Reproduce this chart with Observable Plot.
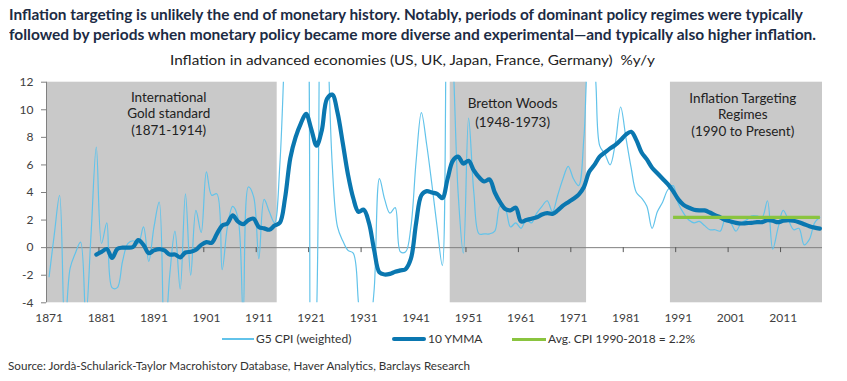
<!DOCTYPE html>
<html><head><meta charset="utf-8">
<script src="https://cdn.jsdelivr.net/npm/d3@7"></script>
<script src="https://cdn.jsdelivr.net/npm/@observablehq/plot@0.6"></script>
<style>
body{margin:0;width:847px;height:381px;position:relative;overflow:hidden;background:#fff;font-family:Lato,sans-serif;}
.t{position:absolute;white-space:nowrap;transform-origin:0 50%;line-height:1;}
#title1,#title2{left:9px;font-size:15px;font-weight:bold;color:#1c2b44;}
#title1{top:7px}#title2{top:27px}
#sub{top:53px;left:170px;font-size:14px;color:#222;}
#chart{position:absolute;left:0;top:70px;}
.sw{position:absolute;}
.lg{font-size:12px;color:#333;top:333px;}
#src{left:8px;top:360px;font-size:11px;color:#333;}
</style></head>
<body>
<div class="t" id="title1">Inflation targeting is unlikely the end of monetary history. Notably, periods of dominant policy regimes were typically</div>
<div class="t" id="title2">followed by periods when monetary policy became more diverse and experimental—and typically also higher inflation.</div>
<div class="t" id="sub">Inflation in advanced economies (US, UK, Japan, France, Germany)&nbsp; %y/y</div>
<div id="chart"></div>
<div class="sw" style="left:222px;top:338px;width:32px;height:1.5px;background:#62c3ea"></div>
<div class="t lg" id="lg1" style="left:256px">G5 CPI (weighted)</div>
<div class="sw" style="left:392px;top:337px;width:34px;height:4px;background:#0a77b0;border-radius:2px"></div>
<div class="t lg" id="lg2" style="left:428px">10 YMMA</div>
<div class="sw" style="left:512px;top:337.5px;width:34px;height:3px;background:#8ac43f"></div>
<div class="t lg" id="lg3" style="left:548px">Avg. CPI 1990-2018 = 2.2%</div>
<div class="t" id="src">Source: Jordà-Schularick-Taylor Macrohistory Database, Haver Analytics, Barclays Research</div>
<script>
// ---- data ----
const firstYear = 1871, lastYear = 2018;
const g5CPI = [
 -2.1, 1.0, 3.8, -6.0, -1.5, -0.4, 0.4, -5.0, 1.0, 7.3,      // 1871-1880
 0.3, 1.8, -2.9, -2.9, -1.0, 0.3, 0.5, 0.3, 1.5, -1.0,        // 1881-1890
 1.5, 3.3, -7.0, -2.0, 1.2, -3.0, 3.9, -2.0, 2.7, 1.1,        // 1891-1900
 5.5, 3.8, 3.9, -1.6, 1.5, 3.0, 2.2, -4.8, 4.4, 3.7,          // 1901-1910
 -0.8, 3.5, 2.6, 1.8, 6, 15, 22, 22, 18, 20,                  // 1911-1920
 -12, -5, 40, 18, 6, 1.5, 0.5, -0.2, -0.4, -4,                // 1921-1930
 -8, -6.5, -3, 5.0, 3.5, 2.5, 2.9, -0.3, -0.3, 1.5,           // 1931-1940
 6.3, 9.8, 7.5, 4.6, 1.5, -1.3, 20, 14, 4, -0.4,              // 1941-1950
 9.4, 4, 1.0, 1.0, 1.0, 1.2, 3.0, 2.8, 1.5, 1.8,              // 1951-1960
 1.4, 2.0, 1.8, 2.5, 3.0, 3.4, 2.6, 3.8, 5.0, 5.9,            // 1961-1970
 5.0, 4.5, 8.0, 14, 13, 7.4, 6.8, 6.0, 7.6, 10.2,             // 1971-1980
 8.0, 5.8, 4.0, 3.6, 3.0, 1.4, 2.6, 3.3, 4.2, 4.5,            // 1981-1990
 3.2, 2.5, 2.0, 1.8, 1.9, 1.6, 1.3, 1.3, 1.2, 2.1,            // 1991-2000
 1.8, 1.2, 1.8, 2.0, 2.3, 2.3, 2.2, 3.4, -0.1, 1.4,           // 2001-2010
 2.7, 2.0, 1.3, 1.4, 0.2, 0.6, 1.8, 2.2                       // 2011-2018
];
const maFirstYear = 1880;
const ma10 = [
 -0.5,                                                        // 1880
 -0.3, -0.1, -0.75, -0.1, 0.0, 0.0, 0.05, 0.55, 0.2, -0.4,    // 1881-1890
 -0.2, -0.1, -0.2, -0.5, -0.5, -0.7, -0.35, -0.3, -0.15, 0.2, // 1891-1900
 0.4, 0.35, 1.0, 1.6, 1.75, 2.35, 1.9, 1.7, 2.0, 2.1,         // 1901-1910
 1.5, 1.4, 1.3, 1.6, 1.8, 3.6, 6.5, 8.0, 9.0, 9.7,            // 1911-1920
 8.6, 7.4, 8.5, 10.8, 11.1, 9.8, 7.6, 5.3, 3.6, 2.6,          // 1921-1930
 2.75, 1.8, -0.2, -1.8, -1.95, -1.9, -1.75, -1.65, -1.55, -0.8, // 1931-1940
 1.8, 3.8, 4.1, 4.0, 3.9, 3.6, 5.0, 6.3, 6.6, 6.1,            // 1941-1950
 6.3, 5.6, 5.1, 4.8, 4.95, 4.0, 3.3, 2.8, 2.7, 2.9,           // 1951-1960
 1.9, 2.0, 2.1, 2.2, 2.4, 2.5, 2.45, 2.7, 3.05, 3.3,          // 1961-1970
 3.55, 3.85, 4.4, 5.5, 6.0, 6.6, 6.9, 7.2, 7.45, 7.8,         // 1971-1980
 8.2, 8.4, 7.8, 6.9, 6.4, 5.8, 5.4, 5.0, 4.6, 4.1,            // 1981-1990
 3.5, 3.1, 2.9, 2.75, 2.7, 2.7, 2.55, 2.35, 2.2, 2.0,         // 1991-2000
 1.9, 1.8, 1.75, 1.78, 1.8, 1.85, 1.85, 2.0, 1.95, 1.85,      // 2001-2010
 1.95, 2.0, 1.95, 1.85, 1.7, 1.55, 1.45, 1.38                 // 2011-2018
];
const avgYears = [1990, 2018];
const avgValue = 2.2;
const regimeStart = [1870.5, 1947.5, 1989.5];
const regimeEnd = [1914.5, 1973.5, 2018.5];
const labelLines = ["International", "Gold standard", "(1871-1914)", "Bretton Woods", "(1948-1973)", "Inflation Targeting", "Regimes", "(1990 to Present)"];
const labelYear = [1893.8, 1893.8, 1893.8, 1959.4, 1959.4, 2003.3, 2003.3, 2003.3];
const labelValue = [10.9, 9.69, 8.47, 10.45, 9.07, 10.81, 9.61, 8.4];
const xTickLabels = [1871, 1881, 1891, 1901, 1911, 1921, 1931, 1941, 1951, 1961, 1971, 1981, 1991, 2001, 2011];
const yTicks = [-4, -2, 0, 2, 4, 6, 8, 10, 12];

// ---- tables ----
const cpi = g5CPI.map((v, i) => ({year: firstYear + i, v}));
const ma = ma10.map((v, i) => ({year: maFirstYear + i, v}));
const avg = avgYears.map(y => ({year: y, v: avgValue}));
const regimes = regimeStart.map((s, i) => ({s, e: regimeEnd[i]}));
const labels = labelLines.map((t, i) => ({t, year: labelYear[i], v: labelValue[i]}));
const tickBounds = xTickLabels.map(y => y - 0.5);

const chart = Plot.plot({
  width: 847, height: 260,
  marginLeft: 46, marginRight: 25, marginTop: 11.7, marginBottom: 27.7,
  x: {domain: [firstYear - 0.5, lastYear + 0.5], axis: null},
  y: {domain: [-4, 12], axis: null},
  style: {fontFamily: "Lato, sans-serif", fontSize: "12px", color: "#404040", background: "transparent", overflow: "visible"},
  marks: [
    Plot.rectX(regimes, {x1: "s", x2: "e", y1: -4, y2: 12, fill: "#c9c9c9"}),
    Plot.ruleY([0], {stroke: "#808080", strokeWidth: 1}),
    Plot.ruleX(tickBounds, {x: d => d, y1: 0, y2: -0.36, stroke: "#555", strokeWidth: 1}),
    Plot.ruleX([firstYear - 0.5], {y1: -4, y2: 12, stroke: "#808080"}),
    Plot.axisY(yTicks, {label: null, tickSize: 5, tickPadding: 8, stroke: "#808080", fill: "#404040", fontSize: 12, tickFormat: d => String(d)}),
    Plot.axisX(xTickLabels, {label: null, tickSize: 0, tickPadding: 11, fill: "#404040", fontSize: 12, tickFormat: d => String(d)}),
    Plot.lineY(cpi, {x: "year", y: "v", stroke: "#62c3ea", strokeWidth: 1.2, curve: "catmull-rom", clip: true}),
    Plot.lineY(ma, {x: "year", y: "v", stroke: "#0a77b0", strokeWidth: 4.2, curve: "catmull-rom", strokeLinejoin: "round", strokeLinecap: "round"}),
    Plot.lineY(avg, {x: "year", y: "v", stroke: "#8ac43f", strokeWidth: 3.2, strokeLinecap: "butt"}),
    Plot.text(labels, {x: "year", y: "v", text: "t", fontSize: 13.5, fill: "#222", fontFamily: "Lato, sans-serif"})
  ]
});
document.getElementById("chart").appendChild(chart);

function fit(id, target) {
  const el = document.getElementById(id);
  const w = el.getBoundingClientRect().width;
  el.style.transform = `scaleX(${target / w})`;
}
fit("title1", 794);
fit("title2", 807);
fit("sub", 485);
fit("src", 462);
</script>
</body></html>
